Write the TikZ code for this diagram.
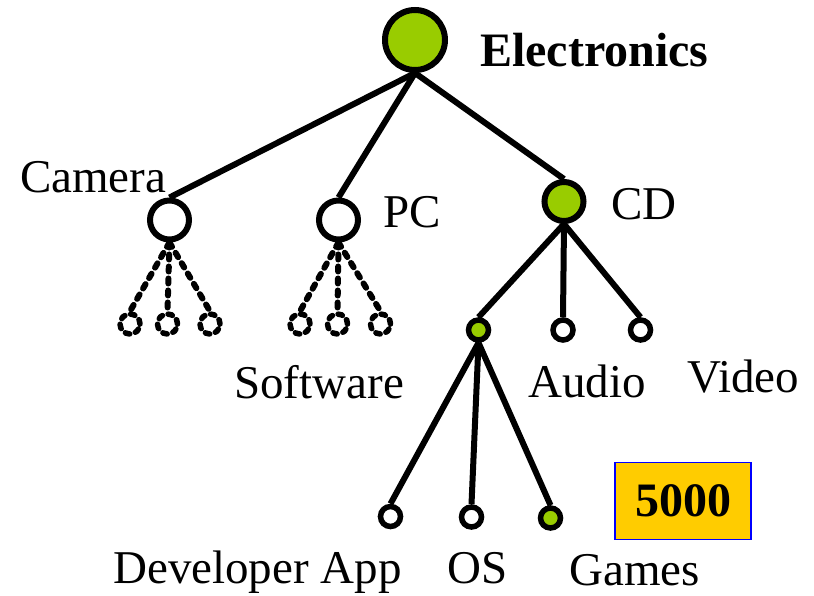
\documentclass[tikz,border=0pt]{standalone}
\usepackage{fontspec}
\setmainfont{Liberation Serif}
\definecolor{leaf}{HTML}{99CC00}
\definecolor{gold}{HTML}{FFCC00}
\begin{document}
\begin{tikzpicture}[x=1pt,y=-1pt,
  big/.style={circle,draw,line width=6pt,minimum size=39pt,inner sep=0pt,fill=white},
  small/.style={circle,draw,line width=5.5pt,minimum size=20pt,inner sep=0pt,fill=white},
  dsmall/.style={small,line cap=round,dash pattern=on 4.5pt off 6pt},
  green/.style={fill=leaf},
  edge/.style={line width=6pt},
  dedge/.style={line width=6pt,line cap=round,dash pattern=on 5pt off 7pt},
  lbl/.style={anchor=base west,inner sep=0pt,font=\fontsize{47}{56}\selectfont}]
\useasboundingbox (0,0) rectangle (814,596);
% nodes
\node[circle,draw,line width=6pt,minimum size=60pt,inner sep=0pt,green] (root) at (415,40) {};
\node[big] (cam) at (169.5,220) {};
\node[big] (pc) at (338.5,220) {};
\node[big,green] (cd) at (564,201.5) {};
\node[dsmall] (c1) at (130,324) {};
\node[dsmall] (c2) at (167.5,324) {};
\node[dsmall] (c3) at (210,324) {};
\node[dsmall] (p1) at (300,324) {};
\node[dsmall] (p2) at (337.5,324) {};
\node[dsmall] (p3) at (380.5,324) {};
\node[small,green] (sw) at (478.5,330) {};
\node[small] (au) at (563,330) {};
\node[small] (vi) at (640.5,330) {};
\node[small] (dev) at (390.5,516.5) {};
\node[small] (os) at (471.5,517) {};
\node[small,green] (ga) at (550.5,518) {};
% edges
\draw[edge] (root.south) -- (cam.north);
\draw[edge] (root.south) -- (pc.north);
\draw[edge] (root.south) -- (cd.north);
\foreach \k in {c1,c2,c3} \draw[dedge] (cam.south) -- (\k.north);
\foreach \k in {p1,p2,p3} \draw[dedge] (pc.south) -- (\k.north);
\foreach \k in {sw,au,vi} \draw[edge] (cd.south) -- (\k.north);
\foreach \k in {dev,os,ga} \draw[edge] (sw.south) -- (\k.north);
% labels
\node[lbl,font=\fontsize{48}{56}\selectfont\bfseries] (tEl) at (480,67) {Electronics};
\node[lbl] (tCam) at (20,193) {Camera};
\node[lbl] (tPC) at (383,228) {PC};
\node[lbl] (tCD) at (611,220) {CD};
\node[lbl] (tSw) at (234,398) {Software};
\node[lbl] (tAu) at (528,397) {Audio};
\node[lbl] (tVi) at (687,392) {Video};
\node[lbl] (tDev) at (113,583) {Developer App};
\node[lbl] (tOS) at (447,583) {OS};
\node[lbl] (tGa) at (569,585) {Games};
\node[draw=blue,line width=1.5pt,fill=gold,minimum width=136pt,minimum height=77pt,inner sep=0pt,
  font=\fontsize{48}{56}\selectfont\bfseries] (box) at (683,501) {5000};
\end{tikzpicture}
\end{document}
